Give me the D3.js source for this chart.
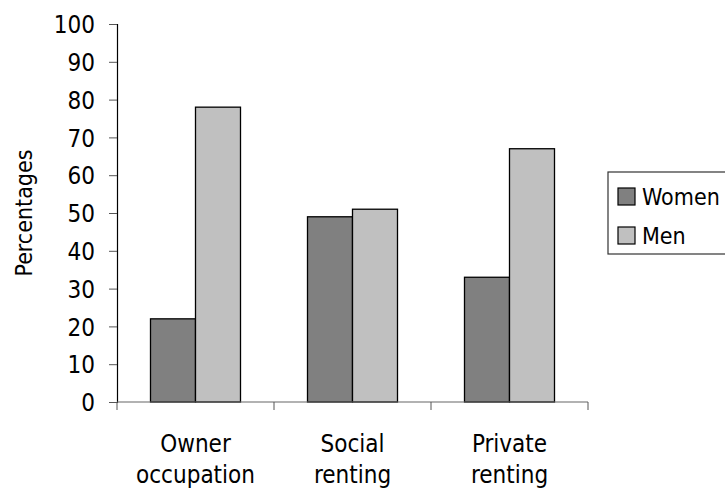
<!DOCTYPE html>
<html>
<head>
<meta charset="utf-8">
<script src="https://cdn.jsdelivr.net/npm/d3@7"></script>
<style>
  body { margin: 0; background: #fff; }
  svg text { font-family: "DejaVu Sans Condensed", "DejaVu Sans", sans-serif; font-stretch: condensed; fill: #000; }
</style>
</head>
<body>
<svg id="chart" width="725" height="490"></svg>
<script>
// Housing tenure by sex (percentages)
const categories = [["Owner", "occupation"], ["Social", "renting"], ["Private", "renting"]];
const seriesNames = ["Women", "Men"];
const women = [22, 49, 33];
const men = [78, 51, 67];
const yTicks = [0, 10, 20, 30, 40, 50, 60, 70, 80, 90, 100];
const colors = ["#808080", "#c0c0c0"];

const svg = d3.select("#chart");
const plot = { left: 117, right: 588, top: 24, bottom: 402 };

const keys = categories.map(c => c.join(" "));
const x = d3.scaleBand().domain(keys).range([plot.left, plot.right]).paddingInner(0).paddingOuter(0);
const y = d3.scaleLinear().domain([0, 100]).range([plot.bottom, plot.top]);
const inner = d3.scaleBand().domain(seriesNames).range([0, 90]);
const groupOffset = (x.bandwidth() - 90) / 2;

const rows = keys.map((k, i) => ({ key: k, values: [women[i], men[i]] }));

// bars
const g = svg.append("g");
rows.forEach(r => {
  r.values.forEach((v, j) => {
    g.append("rect")
      .attr("x", x(r.key) + groupOffset + inner(seriesNames[j]))
      .attr("y", y(v))
      .attr("width", inner.bandwidth())
      .attr("height", y(0) - y(v))
      .attr("fill", colors[j])
      .attr("stroke", "#000")
      .attr("stroke-width", 1.3);
  });
});

// y axis
const yAxis = d3.axisLeft(y).tickValues(yTicks).tickSize(8).tickPadding(14).tickFormat(d3.format("d"));
const ya = svg.append("g").attr("transform", `translate(${plot.left},0)`).call(yAxis);
ya.select(".domain").attr("stroke", "#000").attr("stroke-width", 1.2);
ya.selectAll(".tick line").attr("stroke", "#555");
ya.selectAll(".tick text").attr("font-size", 24).attr("dy", "0.36em")
  .attr("font-family", null).style("fill", "#000");

// x axis with boundary ticks
const xa = svg.append("g").attr("transform", `translate(0,${plot.bottom})`);
xa.append("line").attr("x1", plot.left).attr("x2", plot.right).attr("stroke", "#666").attr("stroke-width", 1.2);
const bounds = keys.map(k => x(k)).concat([plot.right]);
xa.selectAll("line.tk").data(bounds).enter().append("line")
  .attr("class", "tk")
  .attr("x1", d => d).attr("x2", d => d).attr("y1", 0).attr("y2", 8)
  .attr("stroke", "#555");

// category labels
const lbl = svg.append("g");
categories.forEach((c, i) => {
  const cx = x(keys[i]) + x.bandwidth() / 2;
  const t = lbl.append("text")
    .attr("x", cx)
    .attr("y", 452)
    .attr("text-anchor", "middle")
    .attr("font-size", 24);
  c.forEach((line, j) => {
    t.append("tspan").attr("x", cx).attr("dy", j === 0 ? 0 : 31).text(line);
  });
});

// y title
svg.append("text")
  .attr("transform", `translate(32,${(plot.top + plot.bottom) / 2}) rotate(-90)`)
  .attr("text-anchor", "middle")
  .attr("font-size", 23)
  .text("Percentages");

// legend
const leg = svg.append("g").attr("transform", "translate(608,172)");
leg.append("rect").attr("x", 0).attr("y", 0).attr("width", 130).attr("height", 82)
  .attr("fill", "none").attr("stroke", "#333").attr("stroke-width", 1.2);
seriesNames.forEach((n, i) => {
  const row = leg.append("g").attr("transform", `translate(10,${16 + i * 39})`);
  row.append("rect").attr("width", 17).attr("height", 17)
    .attr("fill", colors[i]).attr("stroke", "#000").attr("stroke-width", 1.2);
  row.append("text").attr("x", 24).attr("y", 17).attr("font-size", 23).text(n);
});
</script>
</body>
</html>
